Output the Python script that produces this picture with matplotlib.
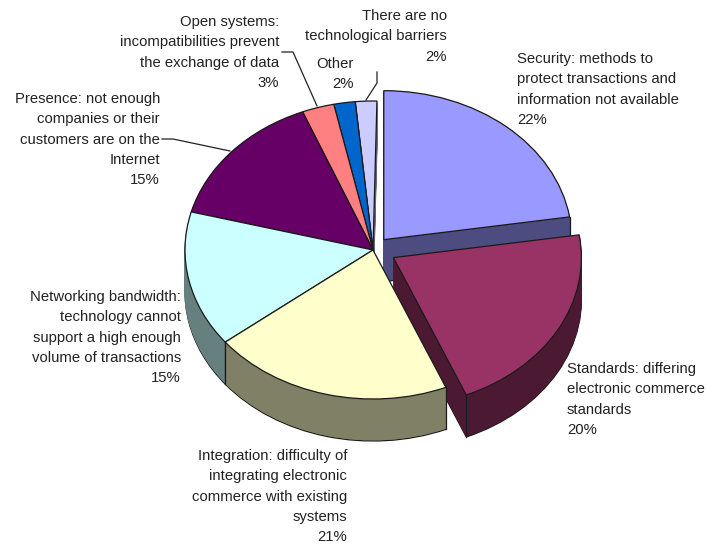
import numpy as np
import matplotlib
matplotlib.use("Agg")
import matplotlib.pyplot as plt
from matplotlib.lines import Line2D

categories = ["Security", "Standards", "Integration", "Networking bandwidth", "Presence",
              "Open systems", "Other", "There are no technological barriers"]
shares = [22, 20, 21, 15, 15, 3, 2, 2]
explode = [0.09, 0.12, 0, 0, 0, 0, 0, 0]

top_colors = ["#9999FF", "#993366", "#FFFFCC", "#CCFFFF", "#660066", "#FF8080", "#0066CC", "#CCCCFF"]
side_colors = ["#4C4C80", "#4C1933", "#808066", "#668080", "#330033", "#804040", "#003366", "#666680"]
# back to front, so the exploded slice's wall goes under its neighbour
draw_order = {0: 1, 7: 2, 6: 3, 5: 4, 4: 5, 1: 6, 3: 7, 2: 8}

W, H = 707, 548
CX, CY = 373, 250
RX, RY = 188, 149
DEPTH = 42
EDGE = "#1a1a1a"


def perspective(a):
    # the view is tilted, so slice boundaries drift a little around the rim
    return a + np.interp(a, [0, 79, 151, 227, 281, 335, 360], [0, 2, 6, 5, 4, 3.2, 1.2])


def rim_angle(t):
    return 90 - perspective(90 - t)


def fx(x):
    return x / W


def fy(y):
    return 1 - y / H


fig = plt.figure(figsize=(W / 100, H / 100), dpi=100)
ax = fig.add_axes([0, 0, 1, 1])

for layer in range(DEPTH + 1):
    top = layer == DEPTH
    bottom = layer == 0
    wedges, _ = ax.pie(shares, explode=explode, startangle=90, counterclock=False, radius=1,
                       center=(0, -(DEPTH - layer) / RY), colors=top_colors if top else side_colors)
    for i, w in enumerate(wedges):
        t1, t2 = w.theta1, w.theta2
        w.set_theta1(rim_angle(t1))
        w.set_theta2(rim_angle(t2))
        w.set_zorder(draw_order[i] * 100 + layer)
        if top or bottom:
            w.set_edgecolor(EDGE)
            w.set_linewidth(0.9)
        else:
            w.set_edgecolor(side_colors[i])
            w.set_linewidth(0.6)
        if top:
            # vertical seams where the walls of two slices meet
            for t, lim in ((w.theta2, 90), (w.theta1, 75)):
                a = 90 - t
                if lim <= a <= 270:
                    x = w.center[0] + np.cos(np.radians(t))
                    y = w.center[1] + np.sin(np.radians(t))
                    ax.plot([x, x], [y, y - DEPTH / RY], color=EDGE, lw=0.9,
                            zorder=draw_order[i] * 100 + layer + 0.5)

ax.set_aspect("auto")
ax.set_xlim(-CX / RX, (W - CX) / RX)
ax.set_ylim((CY - H) / RY, CY / RY)
ax.axis("off")

# slice captions, anchored by their first line
labels = [
    ("Security: methods to\nprotect transactions and\ninformation not available\n22%", 517, 52, "left"),
    ("Standards: differing\nelectronic commerce\nstandards\n20%", 567, 362, "left"),
    ("Integration: difficulty of\nintegrating electronic\ncommerce with existing\nsystems\n21%", 347, 449, "right"),
    ("Networking bandwidth:\ntechnology cannot\nsupport a high enough\nvolume of transactions\n15%", 181, 290, "right"),
    ("Presence: not enough\ncompanies or their\ncustomers are on the\nInternet\n15%", 160, 92, "right"),
    ("Open systems:\nincompatibilities prevent\nthe exchange of data\n3%", 279, 15, "right"),
    ("Other\n2%", 354, 57, "right"),
    ("There are no\ntechnological barriers\n2%", 447, 9, "right"),
]
for text, x, y, ha in labels:
    fig.text(fx(x), fy(y), text, ha=ha, va="top", multialignment=ha, fontsize=10.7,
             family="Liberation Sans", color="#222222", linespacing=1.57)

leaders = [
    ([282, 293, 317], [52, 52, 106]),
    ([162, 173, 230], [139, 139, 151]),
    ([377, 377, 366], [72, 83, 100]),
]
for xs, ys in leaders:
    fig.add_artist(Line2D([fx(v) for v in xs], [fy(v) for v in ys], color="#222222", lw=0.9, zorder=5))

fig.savefig("out.png", dpi=100, facecolor="white")
